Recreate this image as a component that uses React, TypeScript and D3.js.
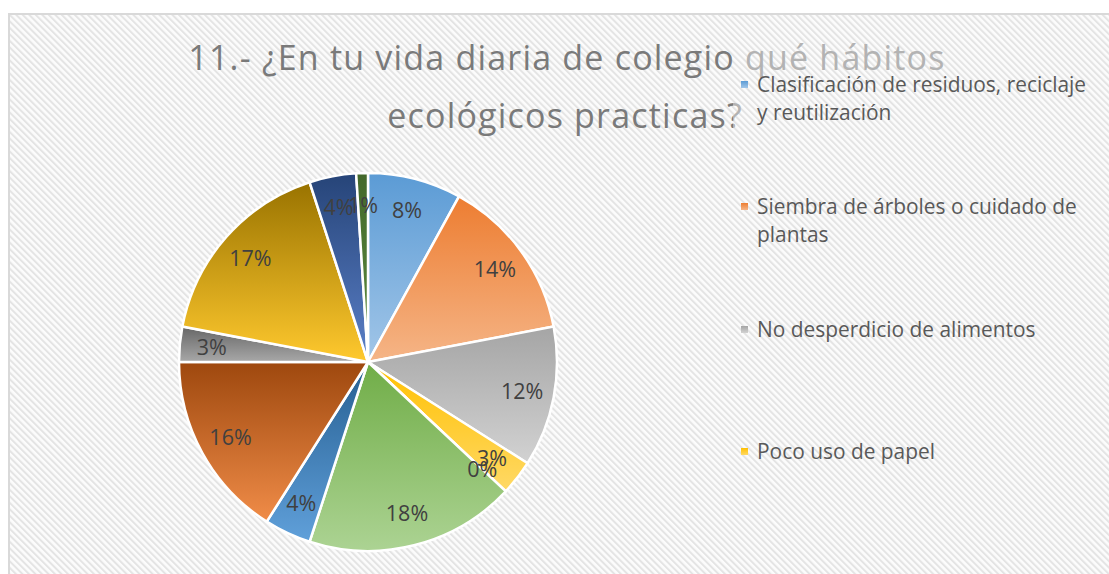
import React from "react";
import * as d3 from "d3";

// percentages, clockwise from 12 o'clock
const values = [8, 14, 12, 3, 0, 18, 4, 16, 3, 17, 4, 1];
const labels = ["8%", "14%", "12%", "3%", "0%", "18%", "4%", "16%", "3%", "17%", "4%", "1%"];
// only the first four series fit in the legend
const legendNames = [
  ["Clasificación de residuos, reciclaje", "y reutilización"],
  ["Siembra de árboles o cuidado de", "plantas"],
  ["No desperdicio de alimentos"],
  ["Poco uso de papel"],
];
const titleLines = ["11.- ¿En tu vida diaria de colegio qué hábitos", "ecológicos practicas?"];

// office palette: [top colour, bottom colour] of each slice gradient
const palette = [
  ["#5B9BD5", "#A2C6E8"],
  ["#ED7D31", "#F5B587"],
  ["#A5A5A5", "#D2D2D2"],
  ["#FFC000", "#FFD966"],
  ["#4472C4", "#8FAADC"],
  ["#70AD47", "#ACD393"],
  ["#255E91", "#60A0DA"],
  ["#9E480E", "#F08C48"],
  ["#666666", "#A8A8A8"],
  ["#997300", "#FFC92E"],
  ["#264478", "#5B80C8"],
  ["#43682B", "#5E8F3F"],
];

const W = 1109;
const H = 574;
const cx = 368;
const cy = 362;
const radius = 189;
const font = "'Open Sans', sans-serif";

export default function App() {
  const pie = d3.pie<number>().sort(null).value((d) => d)(values);
  const arc = d3.arc<d3.PieArcDatum<number>>().innerRadius(0).outerRadius(radius);
  const labelArc = d3
    .arc<d3.PieArcDatum<number>>()
    .innerRadius(radius * 0.83)
    .outerRadius(radius * 0.83);

  const legendX = 741;
  const legendRows = [92, 214, 337, 459];

  return (
    <svg
      width={W}
      height={H}
      style={{ position: "absolute", left: 0, top: 0 }}
      fontFamily={font}
    >
      <defs>
        <pattern
          id="stripes"
          width={4.6}
          height={10}
          patternUnits="userSpaceOnUse"
          patternTransform="rotate(-45)"
        >
          <rect width={4.6} height={10} fill="#fcfcfc" />
          <rect width={2} height={10} fill="#e4e4e4" />
        </pattern>
        {palette.map((c, i) => (
          <linearGradient key={i} id={`g${i}`} x1={0} y1={0} x2={0} y2={1}>
            <stop offset="0" stopColor={c[0]} />
            <stop offset="1" stopColor={c[1]} />
          </linearGradient>
        ))}
        <clipPath id="leftPart">
          <rect x={0} y={0} width={733} height={H} />
        </clipPath>
        <clipPath id="rightPart">
          <rect x={733} y={0} width={W - 733} height={H} />
        </clipPath>
      </defs>

      <rect x={0} y={0} width={W} height={H} fill="#ffffff" />
      <rect x={8} y={13} width={W - 8} height={H - 13} fill="#d9d9d9" />
      <rect x={10} y={15} width={W - 10} height={H - 15} fill="url(#stripes)" />

      {/* title, the part under the legend box is washed out */}
      {[
        { clip: "url(#leftPart)", fill: "#7a7a7a" },
        { clip: "url(#rightPart)", fill: "#b3b3b3" },
      ].map((p, k) => (
        <g
          key={k}
          clipPath={p.clip}
          fill={p.fill}
          fontSize={34}
          letterSpacing={1.2}
          textAnchor="middle"
        >
          <text x={567} y={70}>{titleLines[0]}</text>
          <text x={565} y={128}>{titleLines[1]}</text>
        </g>
      ))}

      <g transform={`translate(${cx},${cy})`}>
        {pie.map((d, i) => (
          <path
            key={i}
            d={arc(d) || ""}
            fill={`url(#g${i})`}
            stroke="#ffffff"
            strokeWidth={2.5}
            strokeLinejoin="round"
          />
        ))}
        {pie.map((d, i) => {
          const [x, y] = labelArc.centroid(d);
          return (
            <text
              key={i}
              x={x}
              y={y}
              dy="0.35em"
              textAnchor="middle"
              fontSize={21.5}
              fill="#404040"
            >
              {labels[i]}
            </text>
          );
        })}
      </g>

      <g fontSize={20.9} fill="#595959">
        {legendNames.map((lines, i) => (
          <g key={i}>
            <rect
              x={legendX}
              y={legendRows[i] - 11}
              width={7}
              height={7}
              fill={`url(#g${i})`}
            />
            {lines.map((t, j) => (
              <text key={j} x={legendX + 16} y={legendRows[i] + j * 28}>
                {t}
              </text>
            ))}
          </g>
        ))}
      </g>
    </svg>
  );
}
